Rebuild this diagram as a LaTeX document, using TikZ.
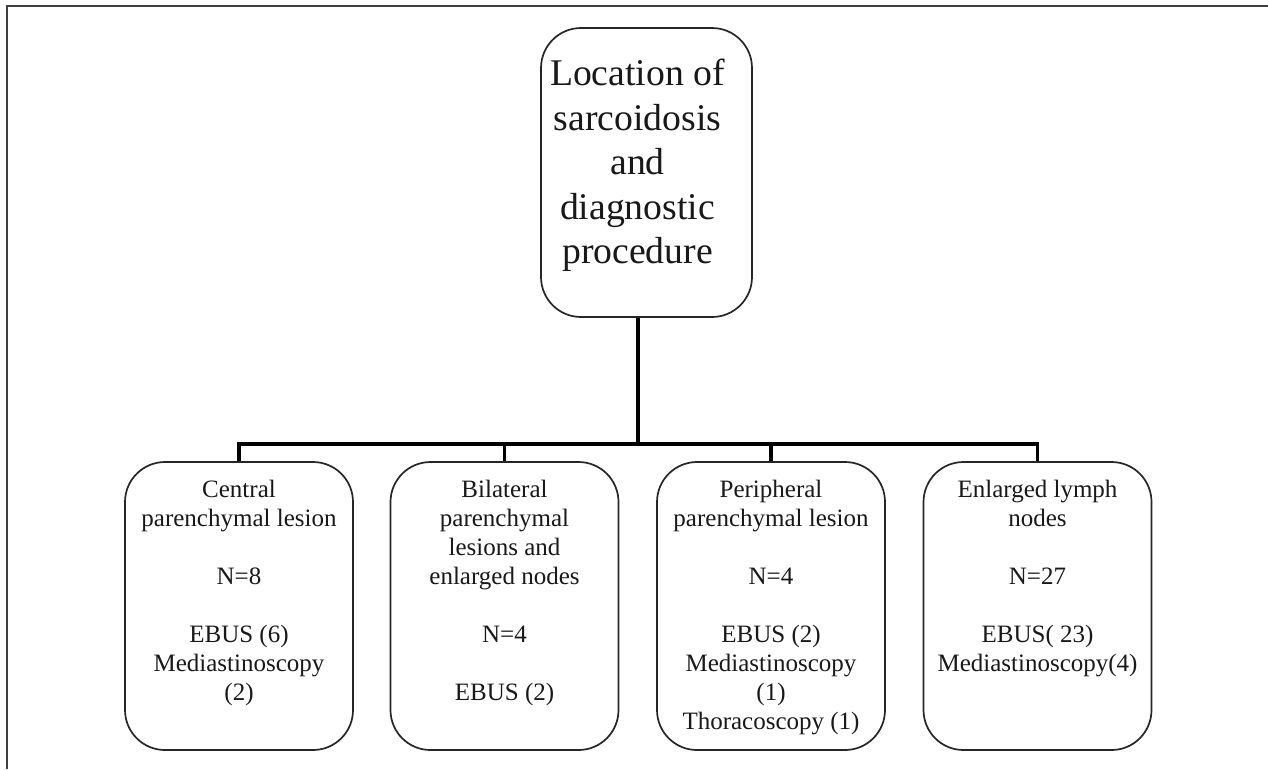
\documentclass[tikz,border=0pt]{standalone}
\usepackage{fontspec}
\setmainfont{Liberation Serif}
\begin{document}
\begin{tikzpicture}[x=1pt,y=-1pt,
  box/.style={draw=black!85, line width=1.7pt, rounded corners=40pt, minimum width=228pt, minimum height=288pt, inner sep=0pt},
  topbox/.style={draw=black!85, line width=1.7pt, rounded corners=40pt, minimum width=211pt, minimum height=289pt, inner sep=0pt},
  conn/.style={line width=3.8pt, black},
  btxt/.style={anchor=north, inner sep=0pt, align=center, text=black!90, font=\fontsize{25}{29}\selectfont},
  ttxt/.style={anchor=north, inner sep=0pt, align=center, text=black!90, font=\fontsize{37.7}{44.5}\selectfont}]
\useasboundingbox (0,0) rectangle (1268,769);
\fill[white] (0,0) rectangle (1268,769);
\draw[black!75, line width=2pt] (7,769) -- (7,5.5) -- (1268,5.5);

\node[topbox] (b0) at (646.5,172.5) {};
\node[ttxt] (t0) at (637.5,59) {Location of\\sarcoidosis\\and\\diagnostic\\procedure};

\node[box] (b1) at (239,606) {};
\node[box] (b2) at (504.5,606) {};
\node[box] (b3) at (771,606) {};
\node[box] (b4) at (1037.5,606) {};

\node[btxt] (t1) at (239,480) {Central\\parenchymal lesion\\[29pt]N=8\\[29pt]EBUS (6)\\Mediastinoscopy\\(2)};
\node[btxt] (t2) at (504.5,480) {Bilateral\\parenchymal\\lesions and\\enlarged nodes\\[29pt]N=4\\[29pt]EBUS (2)};
\node[btxt] (t3) at (771,480) {Peripheral\\parenchymal lesion\\[29pt]N=4\\[29pt]EBUS (2)\\Mediastinoscopy\\(1)\\Thoracoscopy (1)};
\node[btxt] (t4) at (1037.5,480) {Enlarged lymph\\nodes\\[29pt]N=27\\[29pt]EBUS( 23)\\Mediastinoscopy(4)};

\coordinate (hub) at (638,444);
\draw[conn] (b0.south -| hub) -- (hub);
\draw[conn] (b1.north) -- (b1.north |- hub) -- (b4.north |- hub) -- (b4.north);
\draw[conn] (b2.north) -- (b2.north |- hub);
\draw[conn] (b3.north) -- (b3.north |- hub);
\end{tikzpicture}
\end{document}
